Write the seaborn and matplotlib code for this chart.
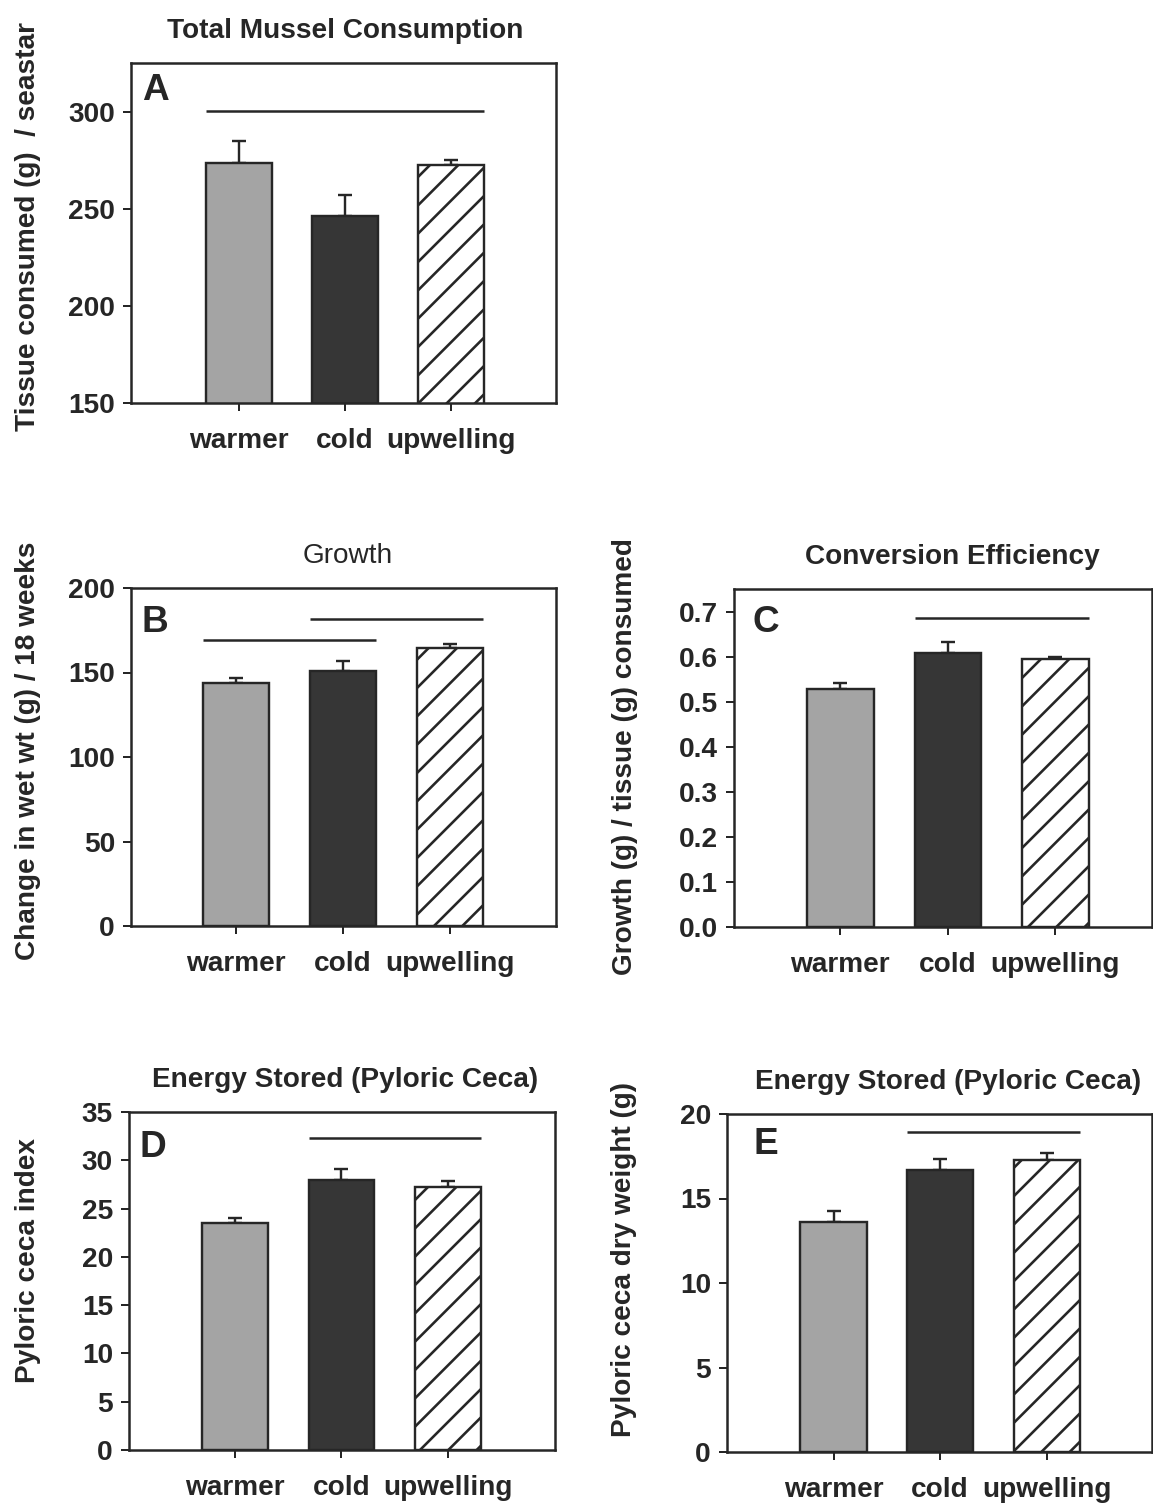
import numpy as np
import pandas as pd
import matplotlib
matplotlib.use("Agg")
import matplotlib.pyplot as plt
import seaborn as sns

# ---------------- data ----------------
categories = ["warmer", "cold", "upwelling"]

consumption_mean = [273.7, 246.4, 272.7]
consumption_upper = [285.0, 257.0, 275.0]

growth_mean = [143.8, 150.9, 164.5]
growth_upper = [146.7, 156.8, 166.9]

efficiency_mean = [0.529, 0.608, 0.595]
efficiency_upper = [0.542, 0.633, 0.600]

ceca_index_mean = [23.5, 27.95, 27.2]
ceca_index_upper = [24.0, 29.1, 27.85]

ceca_dry_mean = [13.6, 16.7, 17.28]
ceca_dry_upper = [14.26, 17.34, 17.7]

# significance bars: (first category, last category, height)
sig_A = [("warmer", "upwelling", 300.5)]
sig_B = [("warmer", "cold", 169.2), ("cold", "upwelling", 181.7)]
sig_C = [("cold", "upwelling", 0.686)]
sig_D = [("cold", "upwelling", 32.3)]
sig_E = [("cold", "upwelling", 18.93)]

yticks_A = [150, 200, 250, 300]
yticks_B = [0, 50, 100, 150, 200]
yticks_C = [0.0, 0.1, 0.2, 0.3, 0.4, 0.5, 0.6, 0.7]
yticks_D = [0, 5, 10, 15, 20, 25, 30, 35]
yticks_E = [0, 5, 10, 15, 20]

titles = ["Total Mussel Consumption", "Growth", "Conversion Efficiency",
          "Energy Stored (Pyloric Ceca)", "Energy Stored (Pyloric Ceca)"]
ylabels = ["Tissue consumed (g)  / seastar", "Change in wet wt (g) / 18 weeks",
           "Growth (g) / tissue (g) consumed", "Pyloric ceca index",
           "Pyloric ceca dry weight (g)"]
letters = ["A", "B", "C", "D", "E"]

# ---------------- style ----------------
W, H, DPI = 1153, 1507, 170


def pt(px):
    return px * 72.0 / DPI


sns.set_style("ticks")
plt.rcParams["font.family"] = ["Liberation Sans", "DejaVu Sans"]
plt.rcParams["font.weight"] = "bold"
plt.rcParams["hatch.linewidth"] = pt(2.6)
INK = "#262626"
plt.rcParams["text.color"] = INK
plt.rcParams["axes.labelcolor"] = INK
plt.rcParams["xtick.color"] = INK
plt.rcParams["ytick.color"] = INK

FS = pt(28)
bar_colors = {"warmer": "#a4a4a4", "cold": "#363636", "upwelling": "#ffffff"}
BAR_W = 0.62

fig = plt.figure(figsize=(W / DPI, H / DPI), dpi=DPI)
fig.patch.set_facecolor("white")


def panel(rect, means, uppers, sigs, ylim, yticks, fmt, ylabel, title, letter,
          xlim, title_x, title_weight, label_xy, letter_off):
    l, t, r, b = rect
    ax = fig.add_axes([l / W, 1 - b / H, (r - l) / W, (b - t) / H])
    df = pd.DataFrame({"cond": categories, "value": means})
    sns.barplot(data=df, x="cond", y="value", hue="cond", palette=bar_colors,
                legend=False, width=BAR_W, edgecolor=INK, linewidth=pt(2.4),
                errorbar=None, saturation=1, ax=ax, zorder=2)
    bars = list(ax.patches)
    bars[2].set_hatch("//")
    centers = [p.get_x() + p.get_width() / 2 for p in bars]
    err = np.array(uppers) - np.array(means)
    ax.errorbar(centers, means, yerr=[np.zeros(len(means)), err], fmt="none",
                ecolor=INK, elinewidth=pt(2.4), capsize=pt(7), capthick=pt(2.4),
                zorder=1)
    for a, c, y in sigs:
        ia, ic = categories.index(a), categories.index(c)
        x0 = bars[ia].get_x()
        x1 = bars[ic].get_x() + bars[ic].get_width()
        ax.plot([x0, x1], [y, y], color=INK, lw=pt(2.5), solid_capstyle="butt")
    ax.set_xlim(*xlim)
    ax.set_ylim(*ylim)
    ax.set_yticks(yticks)
    ax.set_yticklabels([fmt.format(v) for v in yticks])
    ax.set_xlabel("")
    ax.set_ylabel(ylabel, fontsize=FS, fontweight="bold")
    ax.yaxis.set_label_coords(*label_xy)
    ax.tick_params(axis="both", direction="out", length=pt(8), width=pt(2.0),
                   labelsize=FS)
    ax.tick_params(axis="y", pad=pt(8))
    ax.tick_params(axis="x", pad=pt(17))
    for s in ax.spines.values():
        s.set_visible(True)
        s.set_linewidth(pt(2.5))
        s.set_color(INK)
    ax.set_title(title, fontsize=FS, fontweight=title_weight, pad=pt(25), x=title_x)
    ax.text(letter_off[0] / (r - l), 1 - letter_off[1] / (b - t), letter,
            transform=ax.transAxes, ha="left", va="top",
            fontsize=pt(37), fontweight="bold")
    return ax


panel((131, 63, 556, 403), consumption_mean, consumption_upper, sig_A,
      (150, 325), yticks_A, "{:.0f}", ylabels[0], titles[0], letters[0],
      (-1.02, 2.99), 0.503, "bold", (-0.212, 0.52), (11, 10))

panel((131, 588, 556, 926), growth_mean, growth_upper, sig_B,
      (0, 200), yticks_B, "{:.0f}", ylabels[1], titles[1], letters[1],
      (-0.98, 2.99), 0.51, "normal", (-0.212, 0.518), (11, 17))

panel((734, 589, 1152, 927), efficiency_mean, efficiency_upper, sig_C,
      (0, 0.75), yticks_C, "{:.1f}", ylabels[2], titles[2], letters[2],
      (-0.99, 2.90), 0.523, "bold", (-0.230, 0.503), (19, 16))

panel((129, 1112, 555, 1450), ceca_index_mean, ceca_index_upper, sig_D,
      (0, 35), yticks_D, "{:.0f}", ylabels[3], titles[3], letters[3],
      (-1.0, 3.01), 0.507, "bold", (-0.207, 0.56), (11, 18))

panel((727, 1114, 1152, 1452), ceca_dry_mean, ceca_dry_upper, sig_E,
      (0, 20), yticks_E, "{:.0f}", ylabels[4], titles[4], letters[4],
      (-1.0, 2.99), 0.52, "bold", (-0.212, 0.57), (26, 13))

fig.savefig("out.png", dpi=DPI, facecolor="white")
